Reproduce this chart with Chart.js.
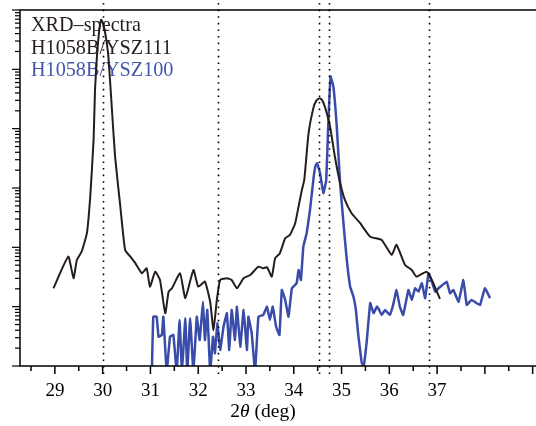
<!DOCTYPE html>
<html><head><meta charset="utf-8">
<script src="https://cdn.jsdelivr.net/npm/chart.js@4/dist/chart.umd.min.js"></script>
<style>html,body{margin:0;padding:0;background:#fff}#wrap{width:536px;height:426px}</style>
</head><body><div id="wrap"><canvas id="c" width="536" height="426"></canvas></div>
<script>
// 2theta (deg) and intensity (a.u., log scale) for H1058B/YSZ111
const angle111 = [28.97,29.28,29.39,29.46,29.56,29.67,29.74,29.81,29.84,29.88,29.93,29.97,30.01,30.06,30.12,30.19,30.26,30.37,30.47,30.58,30.68,30.82,30.92,30.99,31.10,31.20,31.31,31.38,31.45,31.62,31.73,31.90,32.00,32.14,32.25,32.32,32.39,32.46,32.60,32.70,32.81,32.95,33.09,33.26,33.36,33.44,33.54,33.61,33.71,33.82,33.92,34.03,34.10,34.17,34.22,34.31,34.41,34.47,34.54,34.59,34.65,34.76,34.86,34.97,35.07,35.21,35.39,35.60,35.84,36.05,36.15,36.33,36.47,36.57,36.78,36.89,37.06];
const intensity111 = [20.4,69.7,30.1,61.3,84.6,173,716,6470,45100,164000,464000,684000,585000,382000,164000,23600,3390,486,90.4,69.7,54.6,36.6,44.4,21.7,38.9,28.2,7.74,17.9,20.4,36.6,13.9,41.6,21.7,26.4,12.1,4.05,13.0,28.2,30.1,28.2,20.4,30.1,34.2,47.3,44.4,46.2,32.1,65.5,79.6,142,162,255,486,929,1370,8400,22200,29400,32700,30600,23600,10800,3390,1210,630,376,255,151,133,74.5,110,50.5,41.6,32.1,38.9,28.2,13.5];

// 2theta (deg) and intensity for H1058B/YSZ100
const angle100 = [31.03,31.06,31.13,31.17,31.24,31.27,31.34,31.41,31.48,31.55,31.61,31.66,31.73,31.77,31.83,31.90,31.97,32.03,32.10,32.14,32.19,32.25,32.31,32.35,32.40,32.46,32.53,32.60,32.65,32.70,32.77,32.81,32.88,32.95,33.02,33.05,33.12,33.19,33.26,33.36,33.44,33.50,33.56,33.63,33.70,33.75,33.82,33.89,33.96,34.06,34.10,34.15,34.20,34.27,34.34,34.41,34.45,34.49,34.55,34.62,34.68,34.72,34.77,34.83,34.90,34.97,35.04,35.11,35.18,35.25,35.30,35.35,35.42,35.46,35.53,35.60,35.67,35.74,35.77,35.84,35.91,36.01,36.08,36.15,36.22,36.29,36.40,36.47,36.54,36.61,36.68,36.75,36.82,36.89,36.96,37.03,37.20,37.27,37.34,37.45,37.55,37.62,37.72,37.83,37.90,38.00,38.11];
const intensity100 = [0.8,6.78,6.78,3.12,3.33,6.78,0.8,3.12,3.33,0.8,5.97,0.8,6.37,0.8,6.37,0.8,6.78,2.74,12.1,2.74,8.80,0.8,3.12,1.64,5.25,1.86,4.60,7.74,1.86,8.80,2.74,10.0,2.12,8.80,1.86,6.78,3.56,0.8,6.78,7.24,10.0,5.97,10.0,4.60,3.33,19.1,13.0,6.78,20.4,24.8,41.6,28.2,103,173,428,1370,2300,2620,1780,817,1370,10800,75600,51300,10800,1210,255,61.3,21.7,14.7,8.80,3.33,1.17,0.95,2.74,11.5,7.74,10.0,9.40,7.24,8.80,7.24,10.7,19.1,10.0,7.24,19.1,13.0,20.4,17.9,24.8,13.9,36.6,26.4,17.9,20.4,26.4,16.8,19.1,12.1,28.2,10.7,13.0,11.4,10.7,20.4,13.9];

const legendLines = ['XRD\u2013spectra', 'H1058B/YSZ111', 'H1058B/YSZ100'];
const refLines = [30.0, 32.42, 34.53, 34.74, 36.83];
const xTickMarks = [28.5,29,29.5,30,30.5,31,31.5,32,32.5,33,33.5,34,34.5,35,35.5,36,36.5,37,37.5,38,38.5,39];
const xLabelValues = [29,30,31,32,33,34,35,36,37];
const xLabels = ['29','30','31','32','33','34','35','36','37'];
const yDecades = [0,1,2,3,4,5,6];

const BLACK = 'rgb(38,30,30)';
const BLUE = 'rgb(58,76,170)';
const SERIF = '"Liberation Serif", "DejaVu Serif", serif';

const toPts = (xs, ys) => xs.map((x, i) => ({x, y: ys[i]}));

const decor = {
  id: 'decor',
  beforeDatasetsDraw(chart) {
    const ctx = chart.ctx;
    ctx.save();
    ctx.font = '20.2px ' + SERIF;
    ctx.textBaseline = 'alphabetic';
    ctx.textAlign = 'left';
    const cols = [BLACK, BLACK, 'rgb(68,86,172)'];
    legendLines.forEach((t, i) => {
      ctx.fillStyle = cols[i];
      ctx.fillText(t, 31, 31 + i * 22.5);
    });
    ctx.restore();
  },
  afterDraw(chart) {
    const ctx = chart.ctx;
    const a = chart.chartArea;
    const xs = chart.scales.x, ys = chart.scales.y;
    ctx.save();
    // dotted reference lines
    ctx.strokeStyle = '#000';
    ctx.lineWidth = 1.6;
    ctx.setLineDash([1.6, 5]);
    refLines.forEach(v => {
      const px = Math.round(xs.getPixelForValue(v)) + 0.5;
      ctx.beginPath();
      ctx.moveTo(px, 3);
      ctx.lineTo(px, a.bottom + 8);
      ctx.stroke();
    });
    ctx.setLineDash([]);
    // frame
    ctx.lineWidth = 1.5;
    ctx.strokeStyle = '#000';
    ctx.beginPath();
    ctx.moveTo(a.right, a.top); ctx.lineTo(a.left, a.top);
    ctx.lineTo(a.left, a.bottom); ctx.lineTo(a.right, a.bottom);
    ctx.stroke();
    // x tick marks
    ctx.lineWidth = 1.5;
    xTickMarks.forEach(v => {
      const px = xs.getPixelForValue(v);
      const len = Number.isInteger(v) ? 8 : 5;
      ctx.beginPath(); ctx.moveTo(px, a.bottom); ctx.lineTo(px, a.bottom + len); ctx.stroke();
    });
    // y tick marks (log decades + minor)
    ctx.lineWidth = 1.2;
    yDecades.forEach(d => {
      for (let m = 1; m <= 9; m++) {
        if (d === 6 && m > 1) break;
        const py = ys.getPixelForValue(m * Math.pow(10, d));
        const len = m === 1 ? 8 : 5;
        ctx.beginPath(); ctx.moveTo(a.left - len, py); ctx.lineTo(a.left, py); ctx.stroke();
      }
    });
    // x axis title with italic theta
    const parts = [['2', 'normal'], ['\u03b8', 'italic'], [' (deg)', 'normal']];
    let w = 0;
    parts.forEach(p => { ctx.font = p[1] + ' 19.5px ' + SERIF; w += ctx.measureText(p[0]).width; });
    let x0 = 263 - w / 2;
    ctx.fillStyle = '#000';
    ctx.textBaseline = 'alphabetic';
    ctx.textAlign = 'left';
    parts.forEach(p => {
      ctx.font = p[1] + ' 19.5px ' + SERIF;
      ctx.fillText(p[0], x0, 417);
      x0 += ctx.measureText(p[0]).width;
    });
    ctx.restore();
  }
};

new Chart(document.getElementById('c'), {
  type: 'line',
  data: {
    datasets: [
      { label: 'H1058B/YSZ111', data: toPts(angle111, intensity111), borderColor: BLACK, borderWidth: 2, pointRadius: 0, tension: 0.15, fill: false },
      { label: 'H1058B/YSZ100', data: toPts(angle100, intensity100), borderColor: BLUE, borderWidth: 2.5, pointRadius: 0, tension: 0.08, fill: false }
    ]
  },
  options: {
    responsive: false,
    animation: false,
    devicePixelRatio: 1,
    layout: { padding: { top: 10, left: 0, right: 0, bottom: 0 } },
    plugins: { legend: { display: false }, tooltip: { enabled: false } },
    scales: {
      x: {
        type: 'linear', min: 28.27, max: 39.07,
        afterBuildTicks: s => { s.ticks = xLabelValues.map(v => ({ value: v })); },
        afterFit: s => { s.height = 60; },
        grid: { display: false }, border: { display: false },
        ticks: {
          autoSkip: false, maxRotation: 0, padding: 6, color: '#000',
          font: { family: SERIF, size: 19 },
          callback: (v, i) => xLabels[i]
        }
      },
      y: {
        type: 'logarithmic', min: 1, max: 1e6,
        afterFit: s => { s.width = 20; },
        grid: { display: false }, border: { display: false },
        ticks: { display: false }
      }
    }
  },
  plugins: [decor]
});
</script>
</body></html>
